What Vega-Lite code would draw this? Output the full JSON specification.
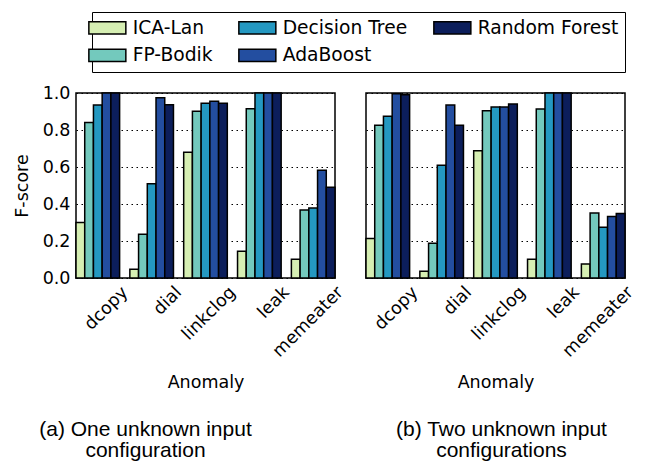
{
  "$schema": "https://vega.github.io/schema/vega-lite/v6.json",
  "padding": {"left": 12, "top": 11, "right": 0, "bottom": 0},
  "background": "white",
  "datasets": {
    "scores": [
      {"p": "a", "anomaly": "dcopy", "method": "ICA-Lan", "f": 0.30},
      {"p": "a", "anomaly": "dcopy", "method": "FP-Bodik", "f": 0.84},
      {"p": "a", "anomaly": "dcopy", "method": "Decision Tree", "f": 0.935},
      {"p": "a", "anomaly": "dcopy", "method": "AdaBoost", "f": 1.0},
      {"p": "a", "anomaly": "dcopy", "method": "Random Forest", "f": 1.0},
      {"p": "a", "anomaly": "dial", "method": "ICA-Lan", "f": 0.047},
      {"p": "a", "anomaly": "dial", "method": "FP-Bodik", "f": 0.236},
      {"p": "a", "anomaly": "dial", "method": "Decision Tree", "f": 0.509},
      {"p": "a", "anomaly": "dial", "method": "AdaBoost", "f": 0.975},
      {"p": "a", "anomaly": "dial", "method": "Random Forest", "f": 0.936},
      {"p": "a", "anomaly": "linkclog", "method": "ICA-Lan", "f": 0.68},
      {"p": "a", "anomaly": "linkclog", "method": "FP-Bodik", "f": 0.902},
      {"p": "a", "anomaly": "linkclog", "method": "Decision Tree", "f": 0.944},
      {"p": "a", "anomaly": "linkclog", "method": "AdaBoost", "f": 0.955},
      {"p": "a", "anomaly": "linkclog", "method": "Random Forest", "f": 0.945},
      {"p": "a", "anomaly": "leak", "method": "ICA-Lan", "f": 0.144},
      {"p": "a", "anomaly": "leak", "method": "FP-Bodik", "f": 0.915},
      {"p": "a", "anomaly": "leak", "method": "Decision Tree", "f": 1.0},
      {"p": "a", "anomaly": "leak", "method": "AdaBoost", "f": 1.0},
      {"p": "a", "anomaly": "leak", "method": "Random Forest", "f": 1.0},
      {"p": "a", "anomaly": "memeater", "method": "ICA-Lan", "f": 0.102},
      {"p": "a", "anomaly": "memeater", "method": "FP-Bodik", "f": 0.367},
      {"p": "a", "anomaly": "memeater", "method": "Decision Tree", "f": 0.378},
      {"p": "a", "anomaly": "memeater", "method": "AdaBoost", "f": 0.582},
      {"p": "a", "anomaly": "memeater", "method": "Random Forest", "f": 0.491},
      {"p": "b", "anomaly": "dcopy", "method": "ICA-Lan", "f": 0.214},
      {"p": "b", "anomaly": "dcopy", "method": "FP-Bodik", "f": 0.826},
      {"p": "b", "anomaly": "dcopy", "method": "Decision Tree", "f": 0.875},
      {"p": "b", "anomaly": "dcopy", "method": "AdaBoost", "f": 0.996},
      {"p": "b", "anomaly": "dcopy", "method": "Random Forest", "f": 0.991},
      {"p": "b", "anomaly": "dial", "method": "ICA-Lan", "f": 0.036},
      {"p": "b", "anomaly": "dial", "method": "FP-Bodik", "f": 0.188},
      {"p": "b", "anomaly": "dial", "method": "Decision Tree", "f": 0.609},
      {"p": "b", "anomaly": "dial", "method": "AdaBoost", "f": 0.935},
      {"p": "b", "anomaly": "dial", "method": "Random Forest", "f": 0.826},
      {"p": "b", "anomaly": "linkclog", "method": "ICA-Lan", "f": 0.688},
      {"p": "b", "anomaly": "linkclog", "method": "FP-Bodik", "f": 0.904},
      {"p": "b", "anomaly": "linkclog", "method": "Decision Tree", "f": 0.924},
      {"p": "b", "anomaly": "linkclog", "method": "AdaBoost", "f": 0.924},
      {"p": "b", "anomaly": "linkclog", "method": "Random Forest", "f": 0.94},
      {"p": "b", "anomaly": "leak", "method": "ICA-Lan", "f": 0.101},
      {"p": "b", "anomaly": "leak", "method": "FP-Bodik", "f": 0.913},
      {"p": "b", "anomaly": "leak", "method": "Decision Tree", "f": 1.0},
      {"p": "b", "anomaly": "leak", "method": "AdaBoost", "f": 1.0},
      {"p": "b", "anomaly": "leak", "method": "Random Forest", "f": 1.0},
      {"p": "b", "anomaly": "memeater", "method": "ICA-Lan", "f": 0.076},
      {"p": "b", "anomaly": "memeater", "method": "FP-Bodik", "f": 0.351},
      {"p": "b", "anomaly": "memeater", "method": "Decision Tree", "f": 0.275},
      {"p": "b", "anomaly": "memeater", "method": "AdaBoost", "f": 0.332},
      {"p": "b", "anomaly": "memeater", "method": "Random Forest", "f": 0.348}
    ]
  },
  "config": {
    "view": {"stroke": "black", "strokeWidth": 1.5},
    "axis": {
      "labelFont": "DejaVu Sans", "labelFontSize": 17.5, "labelColor": "black",
      "titleFont": "DejaVu Sans", "titleFontSize": 17.5, "titleFontWeight": "normal", "titleColor": "black",
      "domain": false, "ticks": false
    },
    "title": {"font": "Liberation Sans", "fontSize": 21, "fontWeight": "normal", "color": "black", "lineHeight": 21}
  },
  "bounds": "flush",
  "spacing": 31,
  "hconcat": [
    {
      "title": {"text": ["(a) One unknown input", "configuration"], "orient": "bottom", "anchor": "middle", "frame": "group", "dx": -60, "offset": 28},
      "width": 259, "height": 185,
      "data": {"name": "scores"},
      "transform": [{"filter": "datum.p === 'a'"}],
      "mark": {"type": "bar", "stroke": "black", "strokeWidth": 1.5},
      "encoding": {
        "x": {"field": "anomaly", "type": "nominal", "sort": ["dcopy", "dial", "linkclog", "leak", "memeater"],
          "scale": {"paddingInner": 0.19, "paddingOuter": 0},
          "axis": {"title": "Anomaly", "labelAngle": -45, "labelAlign": "right", "labelBaseline": "top", "labelPadding": 5, "labelOffset": 21, "labelOverlap": false, "labelFlush": false, "titlePadding": 14,
            "encoding": {"labels": {"update": {
              "dx": {"signal": "datum.value === 'dial' ? -6.4 : datum.value === 'linkclog' ? 3.5 : datum.value === 'leak' ? -5 : datum.value === 'memeater' ? 7.8 : 0"},
              "dy": {"signal": "datum.value === 'dial' ? -6.4 : datum.value === 'linkclog' ? 3.5 : datum.value === 'leak' ? -5 : datum.value === 'memeater' ? 7.8 : 0"}
            }}}}},
        "xOffset": {"field": "method", "type": "nominal", "sort": ["ICA-Lan", "FP-Bodik", "Decision Tree", "AdaBoost", "Random Forest"], "scale": {"paddingInner": 0, "paddingOuter": 0}},
        "y": {"field": "f", "type": "quantitative", "scale": {"domain": [0, 1], "nice": false},
          "axis": {"title": "F-score", "values": [0, 0.2, 0.4, 0.6, 0.8, 1.0], "format": ".1f", "grid": true, "gridColor": "black", "gridDash": [1.5, 3.5], "gridWidth": 1, "labelPadding": 6, "titlePadding": 11}},
        "color": {"field": "method", "type": "nominal",
          "scale": {"domain": ["ICA-Lan", "FP-Bodik", "Decision Tree", "AdaBoost", "Random Forest"], "range": ["#d6efb3", "#73c9bd", "#2498c1", "#234ea0", "#0c1e5b"]},
          "legend": {"orient": "none", "legendX": 16, "legendY": -81, "columns": 3, "title": null,
            "symbolType": "M-3,-1H3V1H-3Z", "symbolSize": 152, "symbolStrokeColor": "black", "symbolStrokeWidth": 1.5,
            "labelFont": "DejaVu Sans", "labelFontSize": 18.7, "labelColor": "black", "labelOffset": 16,
            "columnPadding": 22, "rowPadding": 8, "padding": 6, "strokeColor": "black", "fillColor": "white"}}
      }
    },
    {
      "title": {"text": ["(b) Two unknown input", "configurations"], "orient": "bottom", "anchor": "middle", "frame": "group", "dx": 6, "offset": 28},
      "width": 259, "height": 185,
      "data": {"name": "scores"},
      "transform": [{"filter": "datum.p === 'b'"}],
      "mark": {"type": "bar", "stroke": "black", "strokeWidth": 1.5},
      "encoding": {
        "x": {"field": "anomaly", "type": "nominal", "sort": ["dcopy", "dial", "linkclog", "leak", "memeater"],
          "scale": {"paddingInner": 0.19, "paddingOuter": 0},
          "axis": {"title": "Anomaly", "labelAngle": -45, "labelAlign": "right", "labelBaseline": "top", "labelPadding": 5, "labelOffset": 21, "labelOverlap": false, "labelFlush": false, "titlePadding": 14,
            "encoding": {"labels": {"update": {
              "dx": {"signal": "datum.value === 'dial' ? -6.4 : datum.value === 'linkclog' ? 3.5 : datum.value === 'leak' ? -5 : datum.value === 'memeater' ? 7.8 : 0"},
              "dy": {"signal": "datum.value === 'dial' ? -6.4 : datum.value === 'linkclog' ? 3.5 : datum.value === 'leak' ? -5 : datum.value === 'memeater' ? 7.8 : 0"}
            }}}}},
        "xOffset": {"field": "method", "type": "nominal", "sort": ["ICA-Lan", "FP-Bodik", "Decision Tree", "AdaBoost", "Random Forest"], "scale": {"paddingInner": 0, "paddingOuter": 0}},
        "y": {"field": "f", "type": "quantitative", "scale": {"domain": [0, 1], "nice": false},
          "axis": {"title": null, "labels": false, "values": [0, 0.2, 0.4, 0.6, 0.8, 1.0], "grid": true, "gridColor": "black", "gridDash": [1.5, 3.5], "gridWidth": 1}},
        "color": {"field": "method", "type": "nominal"}
      }
    }
  ]
}
